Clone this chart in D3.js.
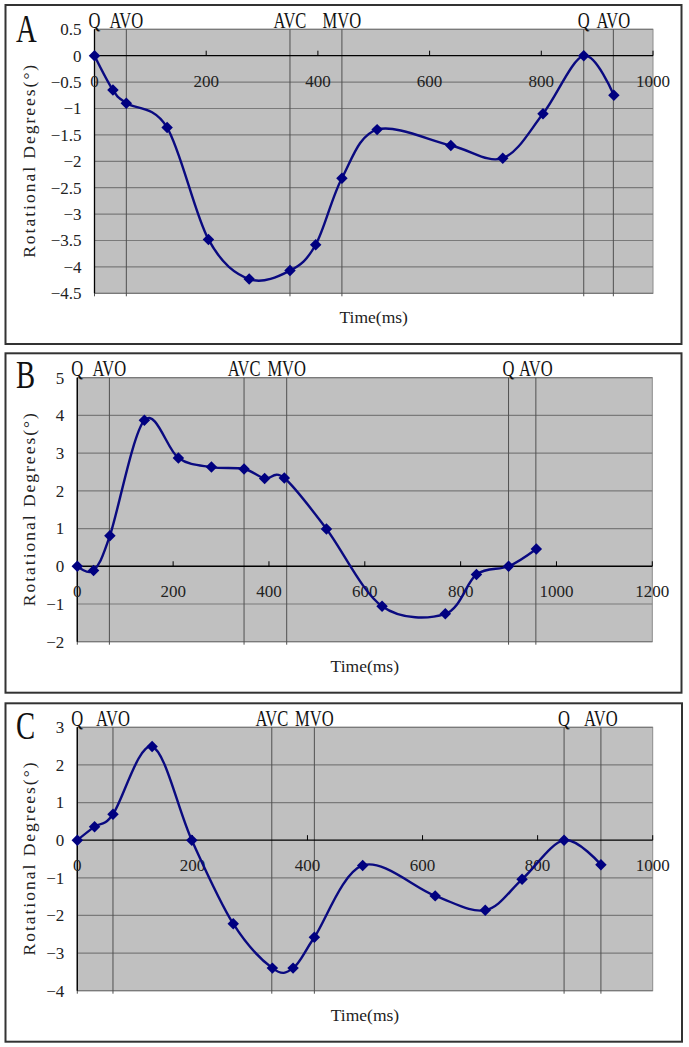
<!DOCTYPE html>
<html><head><meta charset="utf-8">
<script src="https://cdn.jsdelivr.net/npm/d3@7"></script>
<style>body{margin:0;background:#fff}svg{display:block}</style>
</head><body>
<svg id="chart" width="689" height="1047"></svg>
<script>
// ---------- data ----------
const timeA = [0,33,57,130,204,277,350,396,443,506,638,731,803,876,930];
const rotA  = [0,-0.65,-0.90,-1.36,-3.48,-4.23,-4.07,-3.58,-2.32,-1.40,-1.70,-1.94,-1.10,0,-0.75];
const eventLabelsA = ["Q","AVO","AVC","MVO","Q","AVO"];
const eventTimesA  = [0,57,350,443,876,929];
const yTicksA = [0.5,0,-0.5,-1,-1.5,-2,-2.5,-3,-3.5,-4,-4.5];
const xTicksA = [0,200,400,600,800,1000];

const timeB = [0,34,68,140,211,280,348,391,432,520,636,768,833,900,958];
const rotB  = [0,-0.11,0.81,3.87,2.87,2.63,2.58,2.33,2.34,0.99,-1.06,-1.26,-0.22,0,0.46];
const eventLabelsB = ["Q","AVO","AVC","MVO","Q","AVO"];
const eventTimesB  = [0,67,348,437,900,957];
const yTicksB = [5,4,3,2,1,0,-1,-2];
const xTicksB = [0,200,400,600,800,1000,1200];

const timeC = [0,30,62,130,199,271,339,375,412,496,622,709,773,846,910];
const rotC  = [0,0.36,0.69,2.49,0,-2.22,-3.40,-3.40,-2.58,-0.67,-1.48,-1.86,-1.04,0,-0.65];
const eventLabelsC = ["Q","AVO","AVC","MVO","Q","AVO"];
const eventTimesC  = [0,62,338,412,846,910];
const yTicksC = [3,2,1,0,-1,-2,-3,-4];
const xTicksC = [0,200,400,600,800,1000];

const panelLetters = ["A","B","C"];
const xTitle = "Time(ms)";
const yTitle = "Rotational Degrees(°)";

// ---------- layout ----------
const layouts = [
  {box:[5.5,5,681.5,344],   plot:{l:94.5,r:653,t:29.3,b:293.3},   letterY:42},
  {box:[5.5,353.3,681.5,692.7], plot:{l:77.3,r:652.3,t:377.7,b:641.7}, letterY:388},
  {box:[5.5,703.3,682,1041.7],  plot:{l:77.3,r:652.7,t:727.3,b:990.7}, letterY:739}
];
const panelsData = [
  {t:timeA,v:rotA,ev:eventTimesA,evl:eventLabelsA,yt:yTicksA,xt:xTicksA},
  {t:timeB,v:rotB,ev:eventTimesB,evl:eventLabelsB,yt:yTicksB,xt:xTicksB},
  {t:timeC,v:rotC,ev:eventTimesC,evl:eventLabelsC,yt:yTicksC,xt:xTicksC}
];

const svg = d3.select("#chart");
const SERIF = "'Liberation Serif','DejaVu Serif',serif";
const fmt = v => String(v).replace("-", "\u2212");

function ctext(g, x, y, str, size, anchor, sx, fill){
  return g.append("text")
    .attr("transform", `translate(${x},${y}) scale(${sx},1)`)
    .attr("text-anchor", anchor)
    .style("font-family", SERIF)
    .style("font-size", size + "px")
    .attr("fill", fill || "#111")
    .text(str);
}

panelsData.forEach((d, i) => {
  const L = layouts[i], p = L.plot;
  const g = svg.append("g");
  const x = d3.scaleLinear().domain(d3.extent(d.xt)).range([p.l, p.r]);
  const y = d3.scaleLinear().domain(d3.extent(d.yt)).range([p.b, p.t]);

  // outer box
  g.append("rect").attr("x", L.box[0]).attr("y", L.box[1])
    .attr("width", L.box[2]-L.box[0]).attr("height", L.box[3]-L.box[1])
    .attr("fill", "none").attr("stroke", "#333").attr("stroke-width", 2);

  // plot area
  g.append("rect").attr("x", p.l).attr("y", p.t).attr("width", p.r-p.l).attr("height", p.b-p.t)
    .attr("fill", "#c0c0c0").attr("stroke", "#8c8c8c").attr("stroke-width", 1);

  // horizontal gridlines
  g.selectAll(".grid").data(d.yt.filter(v => v !== 0)).join("line")
    .attr("x1", p.l).attr("x2", p.r)
    .attr("y1", v => y(v)).attr("y2", v => y(v))
    .attr("stroke", "#7a7a7a").attr("stroke-width", 1.2);

  // event lines
  g.selectAll(".ev").data(d.ev).join("line")
    .attr("x1", t => x(t)).attr("x2", t => x(t))
    .attr("y1", p.t).attr("y2", p.b + 3)
    .attr("stroke", "#505050").attr("stroke-width", 1);

  // y axis
  g.append("line").attr("x1", p.l).attr("x2", p.l).attr("y1", p.t).attr("y2", p.b)
    .attr("stroke", "#000").attr("stroke-width", 1.3);
  // x axis at zero
  g.append("line").attr("x1", p.l).attr("x2", p.r).attr("y1", y(0)).attr("y2", y(0))
    .attr("stroke", "#000").attr("stroke-width", 1.3);
  g.selectAll(".xtick").data(d.xt.slice(1)).join("line")
    .attr("x1", t => x(t)).attr("x2", t => x(t))
    .attr("y1", y(0)).attr("y2", y(0) - 5)
    .attr("stroke", "#000").attr("stroke-width", 1);

  // x tick labels
  d.xt.forEach(t => ctext(g, x(t), y(0) + 31, fmt(t), 17, "middle", 1, "#222"));
  // y tick labels
  d.yt.forEach(v => ctext(g, p.l - 13, y(v) + 5.8, fmt(v), 17, "end", 1, "#222"));

  // event labels
  d.ev.forEach((t, k) => ctext(g, x(t), p.t - 1.5, d.evl[k], 24, "middle", 0.69));

  // panel letter
  ctext(g, 16, L.letterY, panelLetters[i], 41, "start", 0.7);

  // axis titles
  ctext(g, (p.l + p.r) / 2, p.b + 30, xTitle, 17.5, "middle", 1, "#222");
  g.append("text")
    .attr("transform", `translate(35,${(p.t + p.b) / 2}) rotate(-90)`)
    .attr("text-anchor", "middle")
    .attr("textLength", 193).attr("lengthAdjust", "spacing")
    .style("font-family", SERIF).style("font-size", "17.5px")
    .attr("fill", "#222")
    .text(yTitle);

  // series line
  const pts = d.t.map((t, k) => [t, d.v[k]]);
  const line = d3.line().x(q => x(q[0])).y(q => y(q[1])).curve(d3.curveCardinal.tension(0));
  g.append("path").attr("d", line(pts)).attr("fill", "none")
    .attr("stroke", "#0a0a80").attr("stroke-width", 2.4);

  // markers
  const sym = d3.symbol(d3.symbolSquare, 66);
  g.selectAll(".mk").data(pts).join("path")
    .attr("d", sym)
    .attr("transform", q => `translate(${x(q[0])},${y(q[1])}) rotate(45)`)
    .attr("fill", "#000080");
});
</script>
</body></html>
